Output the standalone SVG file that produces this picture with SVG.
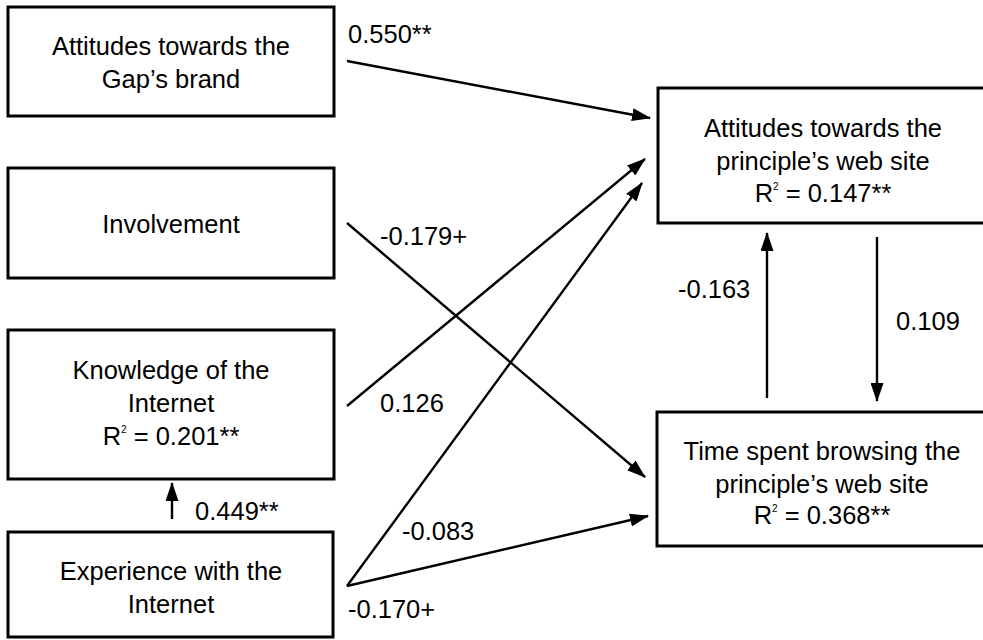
<svg xmlns="http://www.w3.org/2000/svg" width="983" height="640" viewBox="0 0 983 640">
<style>
.box{fill:#fff;stroke:#000;stroke-width:3}
.t{font-family:"Liberation Sans",Arial,sans-serif;font-size:25.5px;fill:#000}
.c{text-anchor:middle}
.sup{font-size:10px}
.ln{stroke:#000;stroke-width:2.4;fill:none;marker-end:url(#ah)}
</style>
<defs>
<marker id="ah" viewBox="0 0 19 13" refX="18" refY="6.5" markerWidth="19" markerHeight="13" orient="auto" markerUnits="userSpaceOnUse">
<path d="M0,0 L19,6.5 L0,13 z" fill="#000"/>
</marker>
</defs>
<rect width="983" height="640" fill="#fff"/>
<g id="gap-brand">
<rect class="box" x="8" y="7" width="326" height="109"/>
<text class="t c" x="171" y="55">Attitudes towards the</text>
<text class="t c" x="171" y="88">Gap’s brand</text>
</g>
<g id="involvement">
<rect class="box" x="8" y="168" width="326" height="110"/>
<text class="t c" x="171" y="233">Involvement</text>
</g>
<g id="knowledge">
<rect class="box" x="8" y="330" width="326" height="149"/>
<text class="t c" x="171" y="379">Knowledge of the</text>
<text class="t c" x="171" y="412">Internet</text>
<text class="t c" x="171" y="445">R<tspan class="sup" dy="-12">2</tspan><tspan dy="12"> = 0.201**</tspan></text>
</g>
<g id="experience">
<rect class="box" x="8" y="532" width="325" height="105"/>
<text class="t c" x="171" y="580">Experience with the</text>
<text class="t c" x="171" y="613">Internet</text>
</g>
<g id="att-website">
<rect class="box" x="658" y="88" width="335" height="135"/>
<text class="t c" x="823" y="137">Attitudes towards the</text>
<text class="t c" x="823" y="170">principle’s web site</text>
<text class="t c" x="823" y="202">R<tspan class="sup" dy="-12">2</tspan><tspan dy="12"> = 0.147**</tspan></text>
</g>
<g id="time-spent">
<rect class="box" x="657" y="412" width="336" height="134"/>
<text class="t c" x="822" y="460">Time spent browsing the</text>
<text class="t c" x="822" y="493">principle’s web site</text>
<text class="t c" x="822" y="524">R<tspan class="sup" dy="-12">2</tspan><tspan dy="12"> = 0.368**</tspan></text>
</g>
<g id="connectors">
<line class="ln" x1="347" y1="61" x2="650" y2="118"/>
<line class="ln" x1="347" y1="223" x2="645" y2="477"/>
<line class="ln" x1="347" y1="406" x2="645" y2="159"/>
<line class="ln" x1="347" y1="586" x2="642" y2="183"/>
<line class="ln" x1="347" y1="586" x2="648" y2="516"/>
<line class="ln" x1="767" y1="398" x2="767" y2="233"/>
<line class="ln" x1="877" y1="237" x2="877" y2="401"/>
<line class="ln" x1="172" y1="519" x2="172" y2="483"/>
</g>
<g id="labels">
<text class="t" x="348" y="43">0.550**</text>
<text class="t" x="380" y="245">-0.179+</text>
<text class="t" x="380" y="412">0.126</text>
<text class="t" x="402" y="540">-0.083</text>
<text class="t" x="348" y="618">-0.170+</text>
<text class="t" x="195" y="520">0.449**</text>
<text class="t" x="678" y="298">-0.163</text>
<text class="t" x="896" y="330">0.109</text>
</g>
</svg>
